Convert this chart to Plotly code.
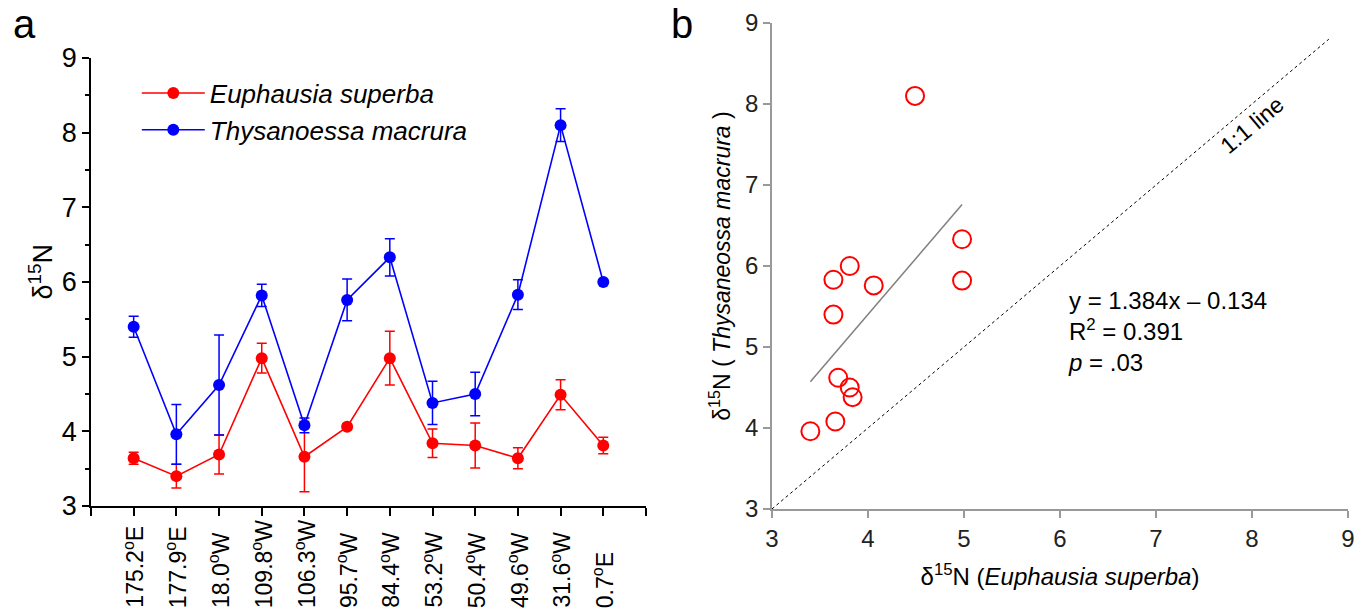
import plotly.graph_objects as go

# Sampling stations (longitude)
stations = ["175.2°E", "177.9°E", "18.0°W", "109.8°W", "106.3°W", "95.7°W",
            "84.4°W", "53.2°W", "50.4°W", "49.6°W", "31.6°W", "0.7°E"]

# δ15N means and standard deviations per station
superba_mean = [3.64, 3.40, 3.69, 4.98, 3.66, 4.06, 4.98, 3.84, 3.81, 3.64, 4.49, 3.81]
superba_sd = [0.08, 0.16, 0.26, 0.20, 0.47, 0.04, 0.36, 0.19, 0.30, 0.14, 0.20, 0.11]
macrura_mean = [5.40, 3.96, 4.62, 5.82, 4.08, 5.76, 6.33, 4.38, 4.50, 5.83, 8.10, 6.00]
macrura_sd = [0.14, 0.40, 0.67, 0.15, 0.10, 0.28, 0.25, 0.29, 0.29, 0.20, 0.22, 0.02]

# Linear regression of T. macrura on E. superba
slope, intercept = 1.384, -0.134
r2, p_text = 0.391, ".03"

FONT = "Liberation Sans, Arial, sans-serif"
idx = list(range(len(stations)))

fig = go.Figure()

# ---- panel a: station series ----
fig.add_trace(go.Scatter(
    x=idx, y=superba_mean, mode="lines+markers", name="Euphausia superba",
    line=dict(color="#ff0000", width=1.6),
    marker=dict(color="#ff0000", size=12),
    error_y=dict(type="data", array=superba_sd, color="#ff0000", thickness=1.5, width=5),
    xaxis="x", yaxis="y"))
fig.add_trace(go.Scatter(
    x=idx, y=macrura_mean, mode="lines+markers", name="Thysanoessa macrura",
    line=dict(color="#0000ff", width=1.6),
    marker=dict(color="#0000ff", size=12),
    error_y=dict(type="data", array=macrura_sd, color="#0000ff", thickness=1.5, width=5),
    xaxis="x", yaxis="y"))

# ---- panel b: scatter with regression and 1:1 line ----
fig.add_trace(go.Scatter(
    x=superba_mean, y=macrura_mean, mode="markers", showlegend=False,
    marker=dict(symbol="circle-open", color="#ff0000", size=18, line=dict(width=2)),
    xaxis="x2", yaxis="y2"))
xfit = [min(superba_mean), max(superba_mean)]
fig.add_trace(go.Scatter(
    x=xfit, y=[slope * v + intercept for v in xfit], mode="lines", showlegend=False,
    line=dict(color="#808080", width=1.5), xaxis="x2", yaxis="y2"))
fig.add_trace(go.Scatter(
    x=[3.0, 8.8], y=[3.0, 8.8], mode="lines", showlegend=False,
    line=dict(color="#000000", width=1, dash="3px,3px"), xaxis="x2", yaxis="y2"))

annotations = []
# station labels, bottom aligned under each tick
for i, s in enumerate(stations):
    annotations.append(dict(
        x=i, xref="x", y=0.0, yref="paper", yanchor="bottom", xanchor="center",
        text=s.replace("°", "<sup>o</sup>"), textangle=-90, showarrow=False,
        font=dict(family=FONT, size=23, color="#000")))

annotations += [
    dict(x=0.018, y=1.0, xref="paper", yref="paper", text="a", showarrow=False,
         xanchor="center", yanchor="top", font=dict(family=FONT, size=40, color="#000")),
    dict(x=0.4985, y=1.0, xref="paper", yref="paper", text="b", showarrow=False,
         xanchor="center", yanchor="top", font=dict(family=FONT, size=40, color="#000")),
    dict(x=0.030, y=0.555, xref="paper", yref="paper", text="δ<sup>15</sup>N",
         xanchor="center", yanchor="middle",
         textangle=-90, showarrow=False, font=dict(family=FONT, size=27, color="#000")),
    dict(x=8.0, y=7.74, xref="x2", yref="y2", text="1:1 line", textangle=-40,
         xanchor="center", yanchor="middle",
         showarrow=False, font=dict(family=FONT, size=23, color="#000")),
    dict(x=6.06, y=5.76, xref="x2", yref="y2", xanchor="left", yanchor="top", align="left",
         text=f"y = {slope}x – {abs(intercept)}<br>R<sup>2</sup> = {r2}<br><i>p</i> = {p_text}",
         showarrow=False, font=dict(family=FONT, size=24, color="#000")),
]

fig.update_layout(
    width=1368, height=610,
    margin=dict(l=0, r=0, t=0, b=0, autoexpand=False),
    paper_bgcolor="white", plot_bgcolor="white",
    font=dict(family=FONT, color="#000"),
    showlegend=True,
    legend=dict(x=0.1, y=0.886, xanchor="left", yanchor="top",
                bgcolor="rgba(0,0,0,0)", font=dict(family=FONT, size=26, style="italic"),
                itemwidth=63, tracegroupgap=0),
    xaxis=dict(domain=[0.0665, 0.4722], range=[-1, 12], tickmode="array",
               tickvals=list(range(-1, 13)), ticktext=[""] * 14, automargin=False,
               showline=True, linecolor="#000", linewidth=1.5, ticks="outside",
               ticklen=8, tickwidth=1.5, tickcolor="#000", showgrid=False, zeroline=False,
               anchor="y"),
    yaxis=dict(domain=[0.1705, 0.905], range=[3, 9], dtick=1, automargin=False,
               showline=True, linecolor="#000", linewidth=1.5, ticks="outside",
               ticklen=7, tickwidth=1.5, tickcolor="#000", showgrid=False, zeroline=False,
               tickfont=dict(family=FONT, size=27, color="#000"),
               minor=dict(dtick=0.5, ticks="outside", ticklen=4, tickwidth=1.5, tickcolor="#000"),
               anchor="x"),
    xaxis2=dict(domain=[0.5643, 0.9854], range=[3, 9], dtick=1, automargin=False,
                showline=True, linecolor="#999", linewidth=1.5, ticks="outside",
                ticklen=7, tickwidth=1.5, tickcolor="#999", showgrid=False, zeroline=False,
                tickfont=dict(family=FONT, size=24, color="#222"),
                title=dict(text="δ<sup>15</sup>N (<i>Euphausia superba</i>)", standoff=18,
                           font=dict(family=FONT, size=24, color="#000")),
                anchor="y2"),
    yaxis2=dict(domain=[0.1656, 0.9623], range=[3, 9], dtick=1, automargin=False,
                showline=True, linecolor="#999", linewidth=1.5, ticks="outside",
                ticklen=7, tickwidth=1.5, tickcolor="#999", showgrid=False, zeroline=False,
                tickfont=dict(family=FONT, size=24, color="#222"),
                title=dict(text="δ<sup>15</sup>N ( <i>Thysaneossa macrura</i> )", standoff=8,
                           font=dict(family=FONT, size=23, color="#000")),
                anchor="x2"),
    annotations=annotations,
)

fig.write_html("out.html")
